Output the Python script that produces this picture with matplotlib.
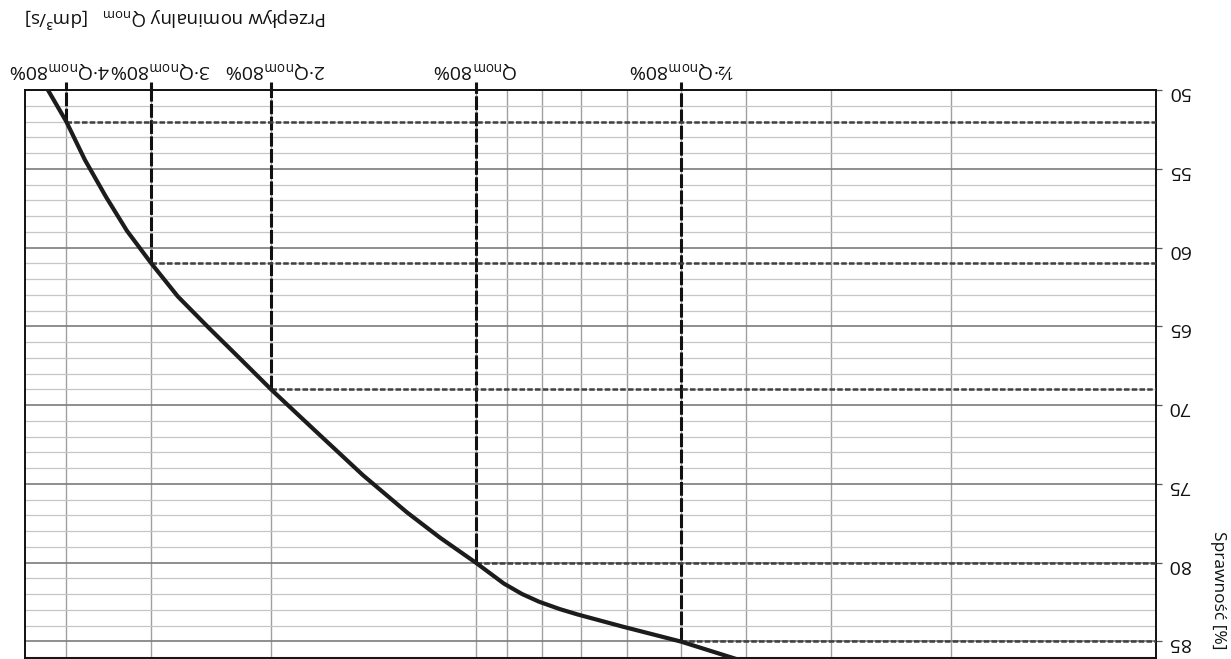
import matplotlib
matplotlib.use("Agg")
import matplotlib.pyplot as plt
from matplotlib.ticker import FixedLocator, MultipleLocator, NullFormatter
from matplotlib.transforms import ScaledTranslation

# The source sheet is scanned upside down, so the chart is drawn rotated 180°:
# both axes inverted, labels on the top/right, all text turned over.
plt.rcParams["font.family"] = ["Open Sans", "DejaVu Sans"]
plt.rcParams["mathtext.fontset"] = "custom"
plt.rcParams["mathtext.rm"] = "Open Sans"

# flow in units where Q_nom80% = 10  (½Q, Q, 2Q, 3Q, 4Q)
MARK_Q = [5, 10, 20, 30, 40]
MARK_EFF = [85, 80, 69, 61, 52]
MARK_LABELS = [
    r"½·Q$_{\mathrm{nom}}$80%",
    r"Q$_{\mathrm{nom}}$80%",
    r"2·Q$_{\mathrm{nom}}$80%",
    r"3·Q$_{\mathrm{nom}}$80%",
    r"4·Q$_{\mathrm{nom}}$80%",
]
# the printed labels are nudged apart a little (points, + = rightwards in the scan)
LABEL_NUDGE = [1, 0, 3, 6.5, -5]

# efficiency curve
CURVE_Q = [42.56, 40, 37.55, 34.97, 32.57, 30, 27.41, 24.67, 22.22, 20,
           17.17, 14.65, 12.63, 11.29, 10, 9.09, 8.55, 8.07, 7.52, 7.08,
           6.08, 5, 4.15]
CURVE_EFF = [50.0, 52, 54.44, 56.78, 58.94, 61, 63.11, 65.11, 67.04, 69,
             71.68, 74.45, 76.80, 78.41, 80, 81.33, 81.99, 82.48, 82.95, 83.29,
             84.06, 85, 86.1]

Y_TICKS = [50, 55, 60, 65, 70, 75, 80, 85]
X_MINOR = [2, 3, 4, 6, 7, 8, 9]

INK = "#111111"

fig = plt.figure(figsize=(12.31, 6.59), dpi=100, facecolor="white")
ax = fig.add_axes([0.0203, 0.0015, 0.9188, 0.8619])

ax.set_xscale("log")
ax.set_xlim(46, 1)        # inverted: flow grows to the left
ax.set_ylim(86.05, 50)    # inverted: efficiency grows downwards

# grid
ax.yaxis.set_major_locator(FixedLocator(Y_TICKS))
ax.yaxis.set_minor_locator(MultipleLocator(1))
ax.xaxis.set_major_locator(FixedLocator(MARK_Q))
ax.xaxis.set_minor_locator(FixedLocator(X_MINOR))
ax.xaxis.set_minor_formatter(NullFormatter())
ax.grid(which="major", axis="y", color="#7c7c7c", lw=1.2)
ax.grid(which="minor", axis="y", color="#c6c6c6", lw=0.9)
ax.grid(which="both", axis="x", color="#a0a0a0", lw=1.0)
ax.set_axisbelow(True)

# curve and construction lines
x_right = ax.get_xlim()[1]
y_top = ax.get_ylim()[1]
ax.vlines(MARK_Q, MARK_EFF, y_top, colors=INK, lw=2.2,
          linestyles=(0, (4.5, 0.8)), zorder=3)
ax.hlines(MARK_EFF, MARK_Q, x_right, colors="#404040", lw=1.8,
          linestyles=(0, (2.2, 0.9)), zorder=3)
ax.plot(CURVE_Q, CURVE_EFF, color="#1c1c1c", lw=3.0, zorder=4,
        solid_joinstyle="round")

# axes frame and ticks
for s in ax.spines.values():
    s.set_color(INK)
    s.set_linewidth(1.4)

ax.xaxis.tick_top()
ax.set_xticklabels(MARK_LABELS)
ax.tick_params(axis="x", which="major", length=5.5, width=2.2, color=INK,
               labelrotation=180, labelsize=14, pad=2, labelcolor=INK)
ax.tick_params(axis="x", which="minor", length=0)
for tick, dx in zip(ax.xaxis.get_major_ticks(), LABEL_NUDGE):
    for lab in (tick.label1, tick.label2):
        lab.set_transform(lab.get_transform()
                          + ScaledTranslation(dx / 72, 0, fig.dpi_scale_trans))

ax.yaxis.tick_right()
ax.set_yticklabels([str(v) for v in Y_TICKS])
ax.tick_params(axis="y", which="major", length=4.5, width=0.9, color="#555555",
               labelrotation=180, labelsize=14, pad=4, labelcolor=INK)
ax.tick_params(axis="y", which="minor", length=0)

ax.set_xlabel(r"Przepływ nominalny Q$_{\mathrm{nom}}$   [dm³/s]", fontsize=13.5,
              color=INK, rotation=180)
ax.xaxis.set_label_position("top")
ax.xaxis.label.set_va("center")
ax.xaxis.set_label_coords(0.133, 1.126)

ax.set_ylabel("Sprawność [%]", fontsize=12.5, color=INK, rotation=270)
ax.yaxis.set_label_position("right")
ax.yaxis.label.set_va("center")
ax.yaxis.set_label_coords(1.055, 0.12)

fig.savefig("out.png", dpi=100, facecolor="white")
